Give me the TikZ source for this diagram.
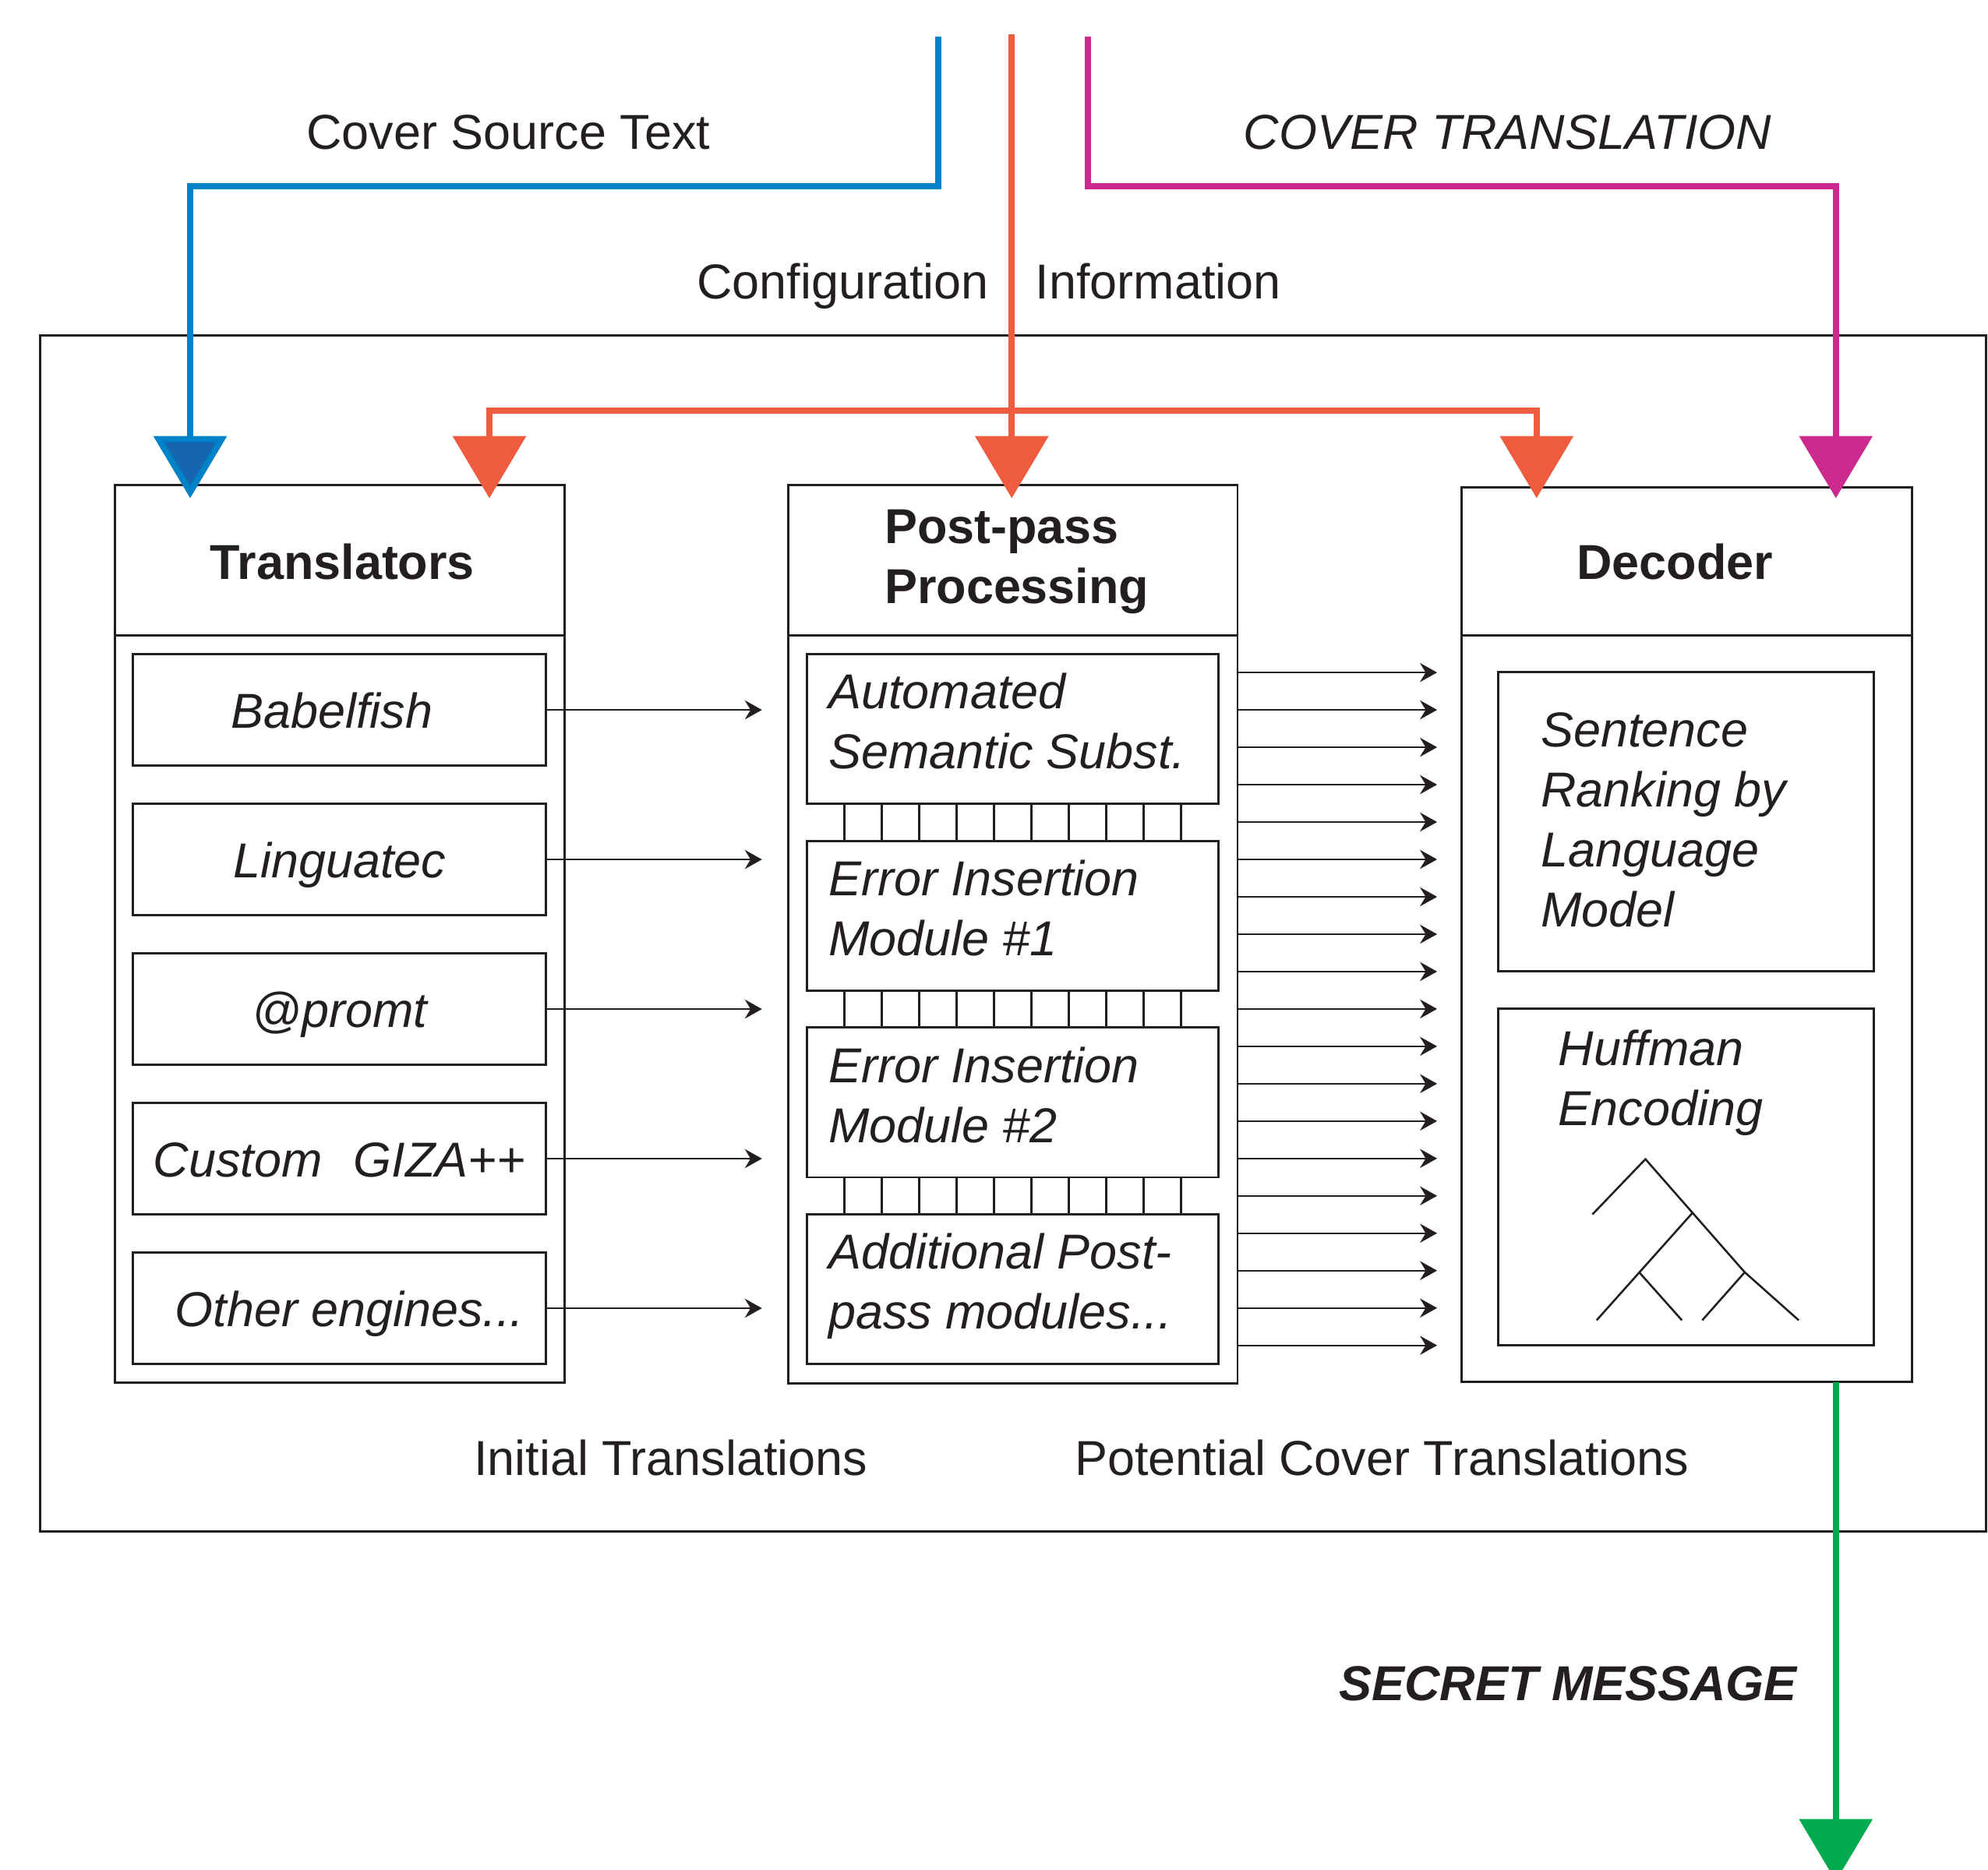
\documentclass[tikz,border=0pt]{standalone}
\usepackage{fontspec}
\setmainfont{Liberation Sans}
\usetikzlibrary{arrows.meta,calc}

\definecolor{ink}{RGB}{35,31,32}
\definecolor{srcblue}{RGB}{0,130,200}
\definecolor{srcfill}{RGB}{21,101,176}
\definecolor{cfgred}{RGB}{238,91,62}
\definecolor{covmag}{RGB}{204,42,142}
\definecolor{msggreen}{RGB}{0,170,78}

\tikzset{
  bigtip/.tip={Triangle[length=4.9mm,width=5.7mm]},
  lbl/.style={inner sep=0pt,text=ink,font=\fontsize{11}{13.45}\selectfont},
  frame/.style={draw=ink,line width=0.5pt,inner sep=0pt,outer sep=0pt},
}

\begin{document}
\begin{tikzpicture}[x=0.01cm,y=-0.01cm,
  title/.style={lbl,font=\fontsize{11}{13.45}\selectfont\bfseries},
  itext/.style={lbl,font=\fontsize{11}{13.45}\selectfont\itshape,anchor=base west,align=left},
  engine/.style={frame,minimum width=3.255cm,minimum height=0.88cm,text=ink,
    font=\fontsize{11}{13.45}\selectfont\itshape,text height=8.3pt,text depth=0pt},
  module/.style={frame,minimum width=3.245cm,minimum height=1.18cm},
  flow/.style={draw=ink,line width=0.4pt,-{Stealth[length=1.35mm,width=1.5mm,inset=0.45mm]}},
  srcline/.style={draw=srcblue,line width=1.35pt,-{Triangle[length=4.9mm,width=5.7mm,fill=srcfill]}},
  cfgline/.style={draw=cfgred,line width=1.35pt,-bigtip},
  covline/.style={draw=covmag,line width=1.35pt,-bigtip},
  msgline/.style={draw=msggreen,line width=1.35pt,-bigtip}]
\useasboundingbox (0,0) rectangle (1568,1475);

% whole system
\node[frame,minimum width=15.34cm,minimum height=9.43cm] (system) at (799,736.5) {};

% the three stages
\node[frame,minimum width=3.54cm,minimum height=7.075cm] (trans) at (268,736.75) {};
\node[frame,minimum width=3.54cm,minimum height=7.08cm] (post) at (799,737) {};
\node[frame,minimum width=3.55cm,minimum height=7.055cm] (dec) at (1330.5,737.25) {};
\draw[frame] (trans.west |- 0,501) -- (trans.east |- 0,501);
\draw[frame] (post.west |- 0,501) -- (post.east |- 0,501);
\draw[frame] (dec.west |- 0,501) -- (dec.east |- 0,501);

% (multi-line texts sit on the baseline of their last line)
\node[title,anchor=base] (transtitle) at (270,457) {Translators};
\node[title,anchor=base west,align=left] (posttitle) at (697,476) {Post-pass\\Processing};
\node[title,anchor=base] (dectitle) at (1321,457) {Decoder};

% translators
\node[engine] (t1) at (267.75,560) {\hspace{-3.4pt}Babelfish};
\node[engine] (t2) at (267.75,678) {Linguatec};
\node[engine] (t3) at (267.75,796) {@promt};
\node[engine] (t4) at (267.75,914) {Custom\hspace{7pt}GIZA++};
\node[engine] (t5) at (267.75,1032) {\hspace{4.5pt}Other engines...};

% post-pass modules
\node[module] (p1) at (798.75,575) {};
\node[module] (p2) at (798.75,722.3) {};
\node[module] (p3) at (798.75,869.7) {};
\node[module] (p4) at (798.75,1017) {};
\node[itext] (p1text) at (652.8,606.2) {Automated\\Semantic Subst.};
\node[itext] (p2text) at (652.8,753.6) {Error Insertion\\Module \#1};
\node[itext] (p3text) at (652.8,901.3) {Error Insertion\\Module \#2};
\node[itext] (p4text) at (652.8,1048.4) {Additional Post-\\pass modules...};
\foreach \a/\b in {p1/p2,p2/p3,p3/p4}
  \foreach \k in {0,...,9} {
    \pgfmathsetmacro\tx{666.2+29.5*\k}
    \draw[frame] (\a.south -| \tx,0) -- (\b.north -| \tx,0);
  }

% decoder parts
\node[frame,minimum width=2.96cm,minimum height=2.36cm] (rank) at (1330,648) {};
\node[frame,minimum width=2.96cm,minimum height=2.65cm] (huff) at (1330,928.5) {};
\node[itext] (ranktext) at (1214.8,731) {Sentence\\Ranking by\\Language\\Model};
\node[itext] (hufftext) at (1228.6,887.6) {Huffman\\Encoding};
\draw[draw=ink,line width=0.45pt] (1256,958) -- (1297.8,914.4) -- (1376,1003.5) -- (1418.7,1041.5);
\draw[draw=ink,line width=0.45pt] (1335,956.7) -- (1259.3,1041.5);
\draw[draw=ink,line width=0.45pt] (1293,1003.8) -- (1326.6,1041.5);
\draw[draw=ink,line width=0.45pt] (1376,1003.8) -- (1342.6,1041.5);

% translations passed on
\coordinate (tin) at (601,0);
\coordinate (pout) at (1133.5,0);
\foreach \i in {1,...,5}
  \draw[flow] (t\i.east) -- (t\i.east -| tin);
\foreach \k in {0,...,18} {
  \pgfmathsetmacro\ty{530.5+29.49*\k}
  \draw[flow] (post.east |- 0,\ty) -- (pout |- 0,\ty);
}

% inputs and output
\coordinate (srcin) at (740,29);
\coordinate (cfgin) at (798,27);
\coordinate (covin) at (858,29);
\coordinate (trans-src) at (150,393);
\coordinate (trans-cfg) at (386,393);
\coordinate (post-cfg) at (798,393);
\coordinate (dec-cfg) at (1212,393);
\coordinate (dec-cov) at (1448,393);
\coordinate (msgout) at (1448,1484);
\draw[srcline] (srcin) |- (150,147) -- (trans-src);
\draw[covline] (covin) |- (1448,147) -- (dec-cov);
\draw[cfgline] (cfgin) -- (post-cfg);
\draw[cfgline,bigtip-bigtip] (trans-cfg) -- ++(0,-69) -| (dec-cfg);
\draw[msgline] (dec.south -| msgout) -- (msgout);

% labels
\node[lbl,anchor=base] (srclabel) at (401,117.5) {Cover Source Text};
\node[lbl,anchor=base,font=\fontsize{11}{13.45}\selectfont\itshape] (covlabel) at (1189,117.5) {COVER TRANSLATION};
\node[lbl,anchor=base west] (cfglabel) at (549,235.5) {Configuration};
\node[lbl,anchor=base west] (infolabel) at (816,235.5) {Information};
\node[lbl,anchor=base] (initlabel) at (529,1164) {Initial Translations};
\node[lbl,anchor=base] (potlabel) at (1090,1164) {Potential Cover Translations};
\node[lbl,anchor=base east,font=\fontsize{11}{13.45}\selectfont\bfseries\itshape] (msglabel) at (1418,1341.4) {SECRET MESSAGE};
\end{tikzpicture}
\end{document}
